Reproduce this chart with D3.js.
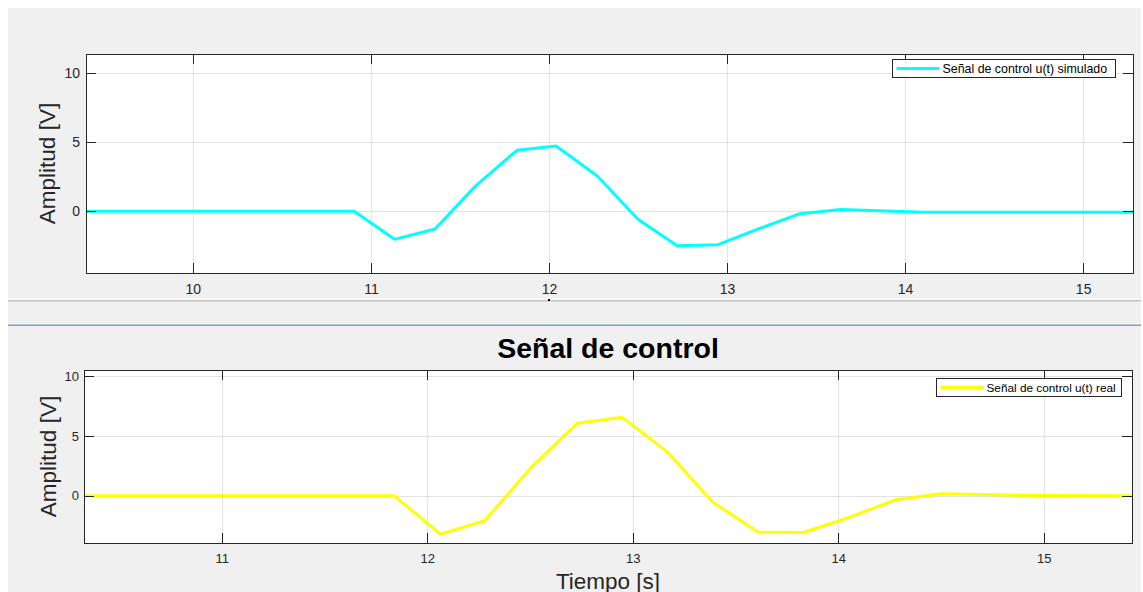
<!DOCTYPE html>
<html>
<head>
<meta charset="utf-8">
<script src="https://cdn.jsdelivr.net/npm/d3@7"></script>
<style>
  body { margin: 0; background: #ffffff; }
  svg { display: block; font-family: "Liberation Sans", Arial, sans-serif; }
  .grid line { stroke: #e3e3e3; stroke-width: 1; shape-rendering: crispEdges; }
  .grid path { display: none; }
  .eje path, .eje line { stroke: #262626; shape-rendering: crispEdges; }
  .eje text { fill: #262626; }
</style>
</head>
<body>
<svg class="chart"></svg>
<script>
// Datos
var tiempoSim = [9.40, 10.906, 11.133, 11.36, 11.59, 11.82, 12.04, 12.27, 12.50, 12.72, 12.95, 13.18, 13.41, 13.64, 14.10, 15.28];
var uSim      = [0, 0, -2.03, -1.28, 1.86, 4.42, 4.73, 2.58, -0.58, -2.49, -2.42, -1.26, -0.17, 0.14, -0.07, -0.07];

var tiempoReal = [10.33, 11.84, 12.064, 12.28, 12.51, 12.73, 12.95, 13.17, 13.39, 13.61, 13.83, 14.05, 14.28, 14.50, 14.95, 15.43];
var uReal      = [0, 0, -3.2, -2.08, 2.44, 6.05, 6.55, 3.64, -0.53, -3.03, -3.06, -1.83, -0.33, 0.17, 0.02, 0.0];

var ticksXSim  = [10, 11, 12, 13, 14, 15];
var ticksXReal = [11, 12, 13, 14, 15];
var ticksY     = [0, 5, 10];

var W = 1143, H = 592;

var svg = d3.select(".chart")
    .attr("width", W)
    .attr("height", H);

// fondo gris de la ventana
svg.append("rect")
    .attr("x", 8).attr("y", 8)
    .attr("width", 1133).attr("height", H - 8)
    .attr("fill", "#f0f0f0");

// separadores entre paneles
svg.append("rect").attr("x", 8).attr("y", 298).attr("width", 1133).attr("height", 2).attr("fill", "#f8f8f8");
svg.append("rect").attr("x", 8).attr("y", 300).attr("width", 1133).attr("height", 1.5).attr("fill", "#c4c4c4");
svg.append("rect").attr("x", 8).attr("y", 324.5).attr("width", 1133).attr("height", 1.5).attr("fill", "#7f9fc8");

// Dibuja un panel (ejes + curva + leyenda)
function panel(cfg) {
  var w = cfg.right - cfg.left,
      h = cfg.bottom - cfg.top;

  var x = d3.scaleLinear().domain(cfg.xDom).range([0, w]);
  var y = d3.scaleLinear().domain(cfg.yDom).range([h, 0]);

  var g = svg.append("g")
      .attr("transform", "translate(" + cfg.left + "," + cfg.top + ")");

  g.append("rect").attr("width", w).attr("height", h).attr("fill", "#ffffff");

  // rejilla
  g.append("g").attr("class", "grid")
      .attr("transform", "translate(0," + h + ")")
      .call(d3.axisBottom(x).tickValues(cfg.xTicks).tickSize(-h).tickFormat(""));
  g.append("g").attr("class", "grid")
      .call(d3.axisLeft(y).tickValues(ticksY).tickSize(-w).tickFormat(""));

  // curva
  var pts = cfg.t.map(function(d, i) { return [d, cfg.u[i]]; });
  var linea = d3.line()
      .x(function(d) { return x(d[0]); })
      .y(function(d) { return y(d[1]); });

  g.append("path")
      .datum(pts)
      .attr("fill", "none")
      .attr("stroke", cfg.color)
      .attr("stroke-width", 3)
      .attr("stroke-linejoin", "round")
      .attr("d", linea);

  // ejes (marcas hacia dentro, caja completa)
  var xb = g.append("g").attr("class", "eje")
      .attr("transform", "translate(0," + h + ")")
      .call(d3.axisBottom(x).tickValues(cfg.xTicks).tickSize(-10).tickPadding(cfg.xPad).tickFormat(d3.format("d")));
  xb.selectAll("text").style("font-size", cfg.tickFont + "px");

  var yl = g.append("g").attr("class", "eje")
      .call(d3.axisLeft(y).tickValues(ticksY).tickSize(-10).tickPadding(cfg.yPad).tickFormat(d3.format("d")));
  yl.selectAll("text").style("font-size", cfg.tickFont + "px");

  g.append("g").attr("class", "eje")
      .call(d3.axisTop(x).tickValues(cfg.xTicks).tickSize(-10).tickFormat(""));
  g.append("g").attr("class", "eje")
      .attr("transform", "translate(" + w + ",0)")
      .call(d3.axisRight(y).tickValues(ticksY).tickSize(-10).tickFormat(""));

  g.selectAll(".eje path").attr("stroke-width", 1);

  // etiqueta eje y
  svg.append("text")
      .attr("transform", "translate(" + cfg.yLabX + "," + (cfg.top + h / 2) + ") rotate(-90)")
      .attr("text-anchor", "middle")
      .attr("fill", "#262626")
      .style("font-size", "22.5px")
      .text("Amplitud [V]");

  // leyenda
  var lg = svg.append("g")
      .attr("transform", "translate(" + cfg.leg[0] + "," + cfg.leg[1] + ")");
  lg.append("rect")
      .attr("width", cfg.leg[2]).attr("height", 18)
      .attr("fill", "#ffffff")
      .attr("stroke", "#262626")
      .attr("stroke-width", 1)
      .attr("shape-rendering", "crispEdges");
  lg.append("line")
      .attr("x1", 4).attr("x2", 47)
      .attr("y1", 9).attr("y2", 9)
      .attr("stroke", cfg.color)
      .attr("stroke-width", 3);
  lg.append("text")
      .attr("x", 50).attr("y", 13.5)
      .attr("fill", "#000000")
      .style("font-size", cfg.legFont + "px")
      .text(cfg.legText);

  return {x: x, y: y};
}

var sup = panel({
  left: 86, right: 1133, top: 54, bottom: 273,
  xDom: [9.40, 15.28], yDom: [-4.47, 11.4],
  xTicks: ticksXSim, t: tiempoSim, u: uSim, color: "#00ffff",
  tickFont: 14, xPad: 11, yPad: 6, yLabX: 54.5,
  leg: [892.5, 59.5, 223], legFont: 12.4, legText: "Señal de control u(t) simulado"
});

// marca suelta bajo el panel superior
svg.append("rect")
    .attr("x", 86 + sup.x(12) - 1).attr("y", 299)
    .attr("width", 2).attr("height", 2)
    .attr("fill", "#000000");

panel({
  left: 84, right: 1132, top: 370, bottom: 543,
  xDom: [10.33, 15.43], yDom: [-3.94, 10.5],
  xTicks: ticksXReal, t: tiempoReal, u: uReal, color: "#ffff00",
  tickFont: 13, xPad: 11, yPad: 5, yLabX: 56,
  leg: [936.5, 378.5, 185], legFont: 11.8, legText: "Señal de control u(t) real"
});

// título y etiqueta x del panel inferior
svg.append("text")
    .attr("x", 608).attr("y", 358)
    .attr("text-anchor", "middle")
    .attr("fill", "#000000")
    .style("font-size", "28.5px")
    .style("font-weight", "bold")
    .text("Señal de control");

svg.append("text")
    .attr("x", 608).attr("y", 588.5)
    .attr("text-anchor", "middle")
    .attr("fill", "#262626")
    .style("font-size", "22.5px")
    .text("Tiempo [s]");
</script>
</body>
</html>
